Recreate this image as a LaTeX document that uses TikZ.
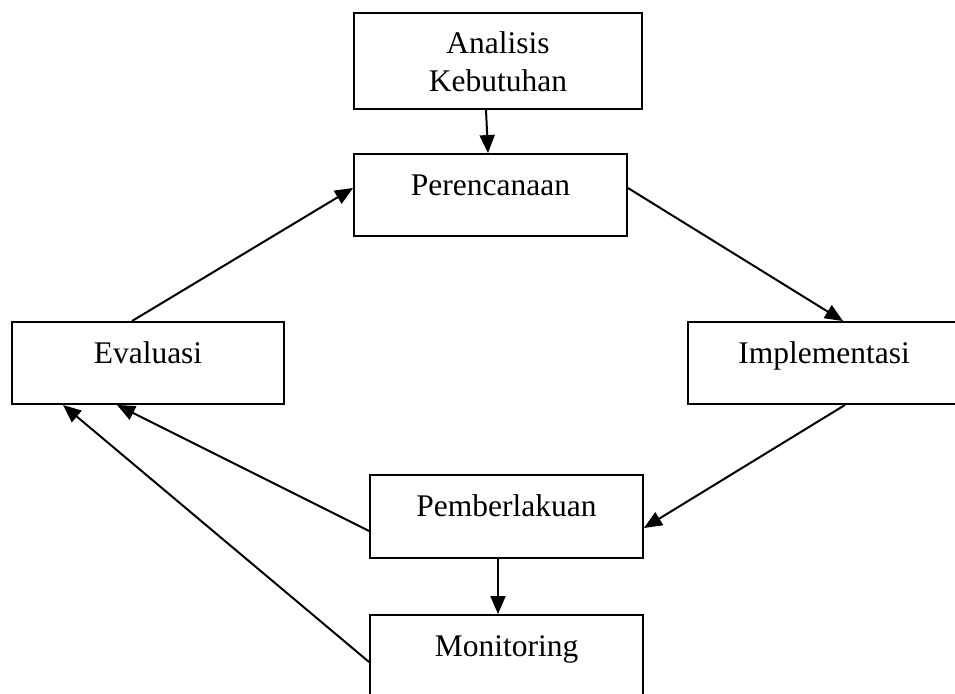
\documentclass[tikz,border=0pt]{standalone}
\usepackage{fontspec}
\setmainfont{Liberation Serif}
\usetikzlibrary{arrows.meta,calc}
\begin{document}
\begin{tikzpicture}[x=1pt,y=-1pt,
  box/.style={draw,line width=1.9pt,rectangle,inner sep=0pt},
  lbl/.style={anchor=base,inner sep=0pt,font=\fontsize{31.5}{38}\selectfont},
  arr/.style={line width=2pt,-{Triangle[length=18pt,width=15pt]}}]
\useasboundingbox (0,0) rectangle (955,693);
\fill[white] (0,0) rectangle (955,693);
% boxes
\node[box,minimum width=288pt,minimum height=96pt] (ana) at (498,61) {};
\node[box,minimum width=273pt,minimum height=82pt] (per) at (490.5,195) {};
\node[box,minimum width=272pt,minimum height=82pt] (eva) at (148,363) {};
\node[box,minimum width=272pt,minimum height=82pt] (imp) at (824,363) {};
\node[box,minimum width=273pt,minimum height=83pt] (pem) at (506.5,516.5) {};
\node[box,minimum width=273pt,minimum height=82pt] (mon) at (506.5,656) {};
% texts
\node[lbl] (anat1) at (498,54) {Analisis};
\node[lbl] (anat2) at (498,92) {Kebutuhan};
\node[lbl] (pert) at (490.5,195) {Perencanaan};
\node[lbl] (evat) at (148,363) {Evaluasi};
\node[lbl] (impt) at (824,363) {Implementasi};
\node[lbl] (pemt) at (506.5,516.5) {Pemberlakuan};
\node[lbl] (mont) at (506.5,656) {Monitoring};
% connectors
\draw[arr] ([xshift=-12pt]ana.south) -- ([xshift=-2.5pt]per.north);
\draw[arr] ([xshift=-16pt]eva.north) -- ([yshift=7pt]per.west);
\draw[arr] ([yshift=7pt]per.east) -- ([xshift=19pt]imp.north);
\draw[arr] ([xshift=21pt]imp.south) -- ([yshift=-11.5pt]pem.east);
\draw[arr] ([yshift=-14.5pt]pem.west) -- ([xshift=-31pt]eva.south);
\draw[arr] ([xshift=-8.5pt]pem.south) -- ([xshift=-8.5pt]mon.north);
\draw[arr] ([yshift=-6pt]mon.west) -- ([xshift=-85pt]eva.south);
\end{tikzpicture}
\end{document}
